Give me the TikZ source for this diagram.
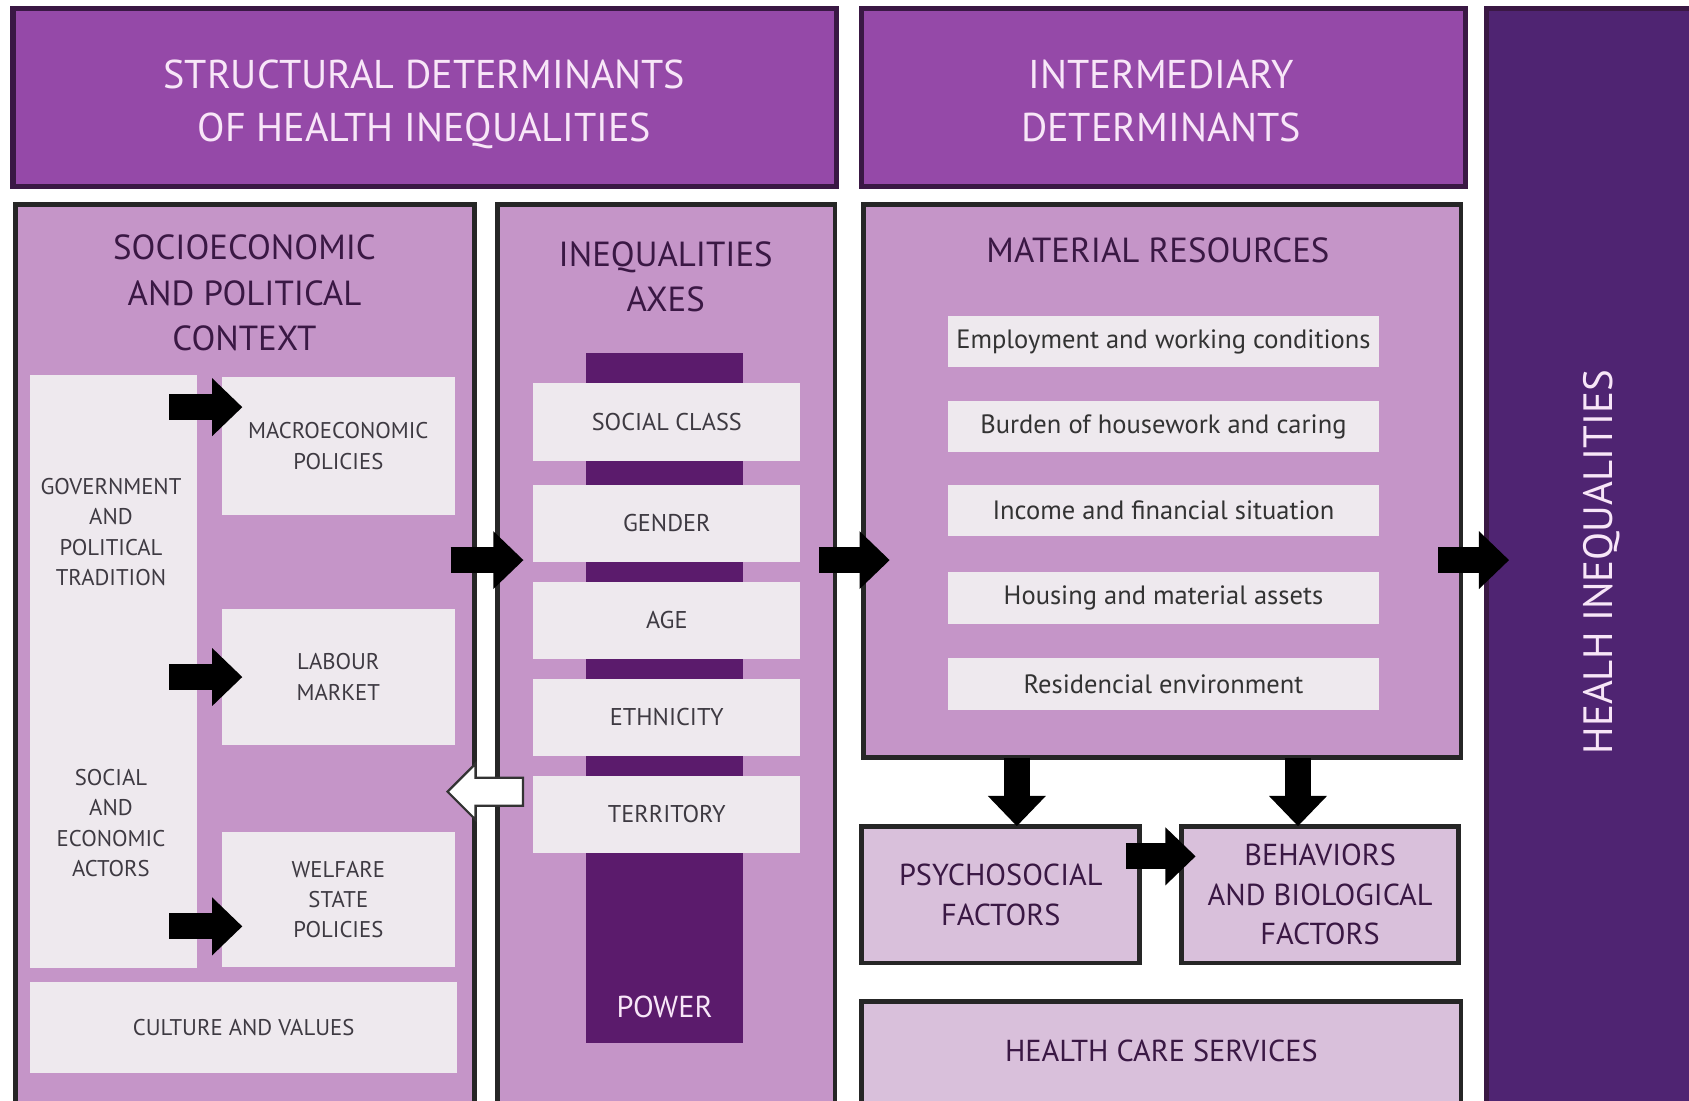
\documentclass[tikz,border=0pt]{standalone}
\usepackage{fontspec}
\setmainfont{PT Sans}
\usetikzlibrary{arrows.meta,shapes.arrows,calc,positioning}

\definecolor{headpurple}{RGB}{149,73,168}
\definecolor{boxpurple}{RGB}{197,149,200}
\definecolor{palebox}{RGB}{238,233,238}
\definecolor{lilac}{RGB}{217,192,219}
\definecolor{deeppurple}{RGB}{91,27,108}
\definecolor{nightpurple}{RGB}{79,36,114}
\definecolor{inkpurple}{RGB}{58,24,68}
\definecolor{headtext}{RGB}{248,230,248}
\definecolor{greytext}{RGB}{62,58,66}

\begin{document}
\begin{tikzpicture}[x=0.01cm,y=-0.01cm,
    box/.style={anchor=north west,inner sep=0pt,outer sep=0pt},
    header/.style={box,draw=inkpurple,line width=0.05cm,fill=headpurple},
    headtxt/.style={text=headtext,align=center,font=\fontsize{10.6}{13.9}\selectfont},
    frame/.style={box,draw=black!85,line width=0.045cm,fill=boxpurple},
    factor/.style={box,draw=black!85,line width=0.045cm,fill=lilac,text=inkpurple,align=center,font=\fontsize{8}{10.5}\selectfont},
    pale/.style={box,fill=palebox},
    fat/.style={line width=0.24cm,-{Triangle[length=0.28cm,width=0.52cm]}},
    titletxt/.style={text=inkpurple,align=center,font=\fontsize{9.2}{12}\selectfont},
    smalltxt/.style={text=greytext,align=center,font=\fontsize{6}{8}\selectfont},
    axistxt/.style={text=greytext,align=center,font=\fontsize{6.4}{8}\selectfont},
    itemtxt/.style={text=black!80,align=center,font=\fontsize{7}{9}\selectfont}]
\clip (0,0) rectangle (1568,1022);
\fill[white] (0,0) rectangle (1568,1022);

% headers
\node[header,minimum width=7.64cm,minimum height=1.65cm] (struct) at (12,8) {};
\node[headtxt] (structtxt) at (394,97) {STRUCTURAL DETERMINANTS\\OF HEALTH INEQUALITIES};
\node[header,minimum width=5.6cm,minimum height=1.65cm] (inter) at (800,8) {};
\node[headtxt] (intertxt) at (1078,94) {INTERMEDIARY\\DETERMINANTS};
\node[box,draw=inkpurple,line width=0.05cm,fill=nightpurple,minimum width=2.3cm,minimum height=10.4cm] (health) at (1380,8) {};
\node[rotate=90,text=headtext,font=\fontsize{10.8}{12}\selectfont] (healthtxt) at (1487,522) {HEALH INEQUALITIES};

% socioeconomic and political context
\node[frame,minimum width=4.26cm,minimum height=8.6cm] (context) at (14,190) {};
\node[titletxt] (contexttxt) at (227,272) {SOCIOECONOMIC\\AND POLITICAL\\CONTEXT};
\node[pale,minimum width=1.55cm,minimum height=5.5cm] (gov) at (28,348) {};
\node[smalltxt] (govtxt) at (103,494) {GOVERNMENT\\AND\\POLITICAL\\TRADITION};
\node[smalltxt] (actors) at (103,764) {SOCIAL\\AND\\ECONOMIC\\ACTORS};
\node[pale,smalltxt,minimum width=2.16cm,minimum height=1.28cm] (macro) at (206,350) {MACROECONOMIC\\POLICIES};
\node[pale,smalltxt,minimum width=2.16cm,minimum height=1.27cm] (labour) at (206,565) {LABOUR\\MARKET};
\node[pale,smalltxt,minimum width=2.16cm,minimum height=1.26cm] (welfare) at (206,772) {WELFARE\\STATE\\POLICIES};
\node[pale,smalltxt,minimum width=3.96cm,minimum height=0.84cm] (culture) at (28,912) {CULTURE AND VALUES};

% inequalities axes
\node[frame,minimum width=3.13cm,minimum height=8.6cm] (axes) at (462,190) {};
\node[titletxt] (axestxt) at (618,257) {INEQUALITIES\\AXES};
\node[box,fill=deeppurple,minimum width=1.46cm,minimum height=6.4cm] (power) at (544,328) {};
\node[text=headtext,font=\fontsize{8}{10}\selectfont] (powertxt) at (617,935) {POWER};
\foreach \y/\lab [count=\i] in {356/SOCIAL CLASS,450/GENDER,540/AGE,630/ETHNICITY,720/TERRITORY}
    \node[pale,axistxt,minimum width=2.48cm,minimum height=0.72cm] (axis\i) at (495,\y) {\lab};

% material resources
\node[frame,minimum width=5.54cm,minimum height=5.13cm] (material) at (802,190) {};
\node[titletxt] (materialtxt) at (1075,232) {MATERIAL RESOURCES};
\foreach \y/\lab [count=\i] in {293/Employment and working conditions,372/Burden of housework and caring,
    450/Income and financial situation,531/Housing and material assets,611/Residencial environment}
    \node[pale,itemtxt,minimum width=4cm,minimum height=0.48cm] (res\i) at (880,\y) {\lab};

% factors
\node[factor,minimum width=2.58cm,minimum height=1.27cm] (psycho) at (800,767) {PSYCHOSOCIAL\\FACTORS};
\node[factor,minimum width=2.57cm,minimum height=1.27cm] (behav) at (1097,767) {BEHAVIORS\\AND BIOLOGICAL\\FACTORS};
\node[factor,minimum width=5.56cm,minimum height=1.5cm,text depth=0.6cm] (care) at (800,930) {HEALTH CARE SERVICES};

% arrows
\coordinate (mid) at (0,520);
\draw[fat] ($(gov.east|-macro.north)+(-26,28)$) -- ($(macro.north west)+(19,28)$);
\draw[fat] ($(gov.east|-labour)+(-26,0)$) -- ($(labour.west)+(19,0)$);
\draw[fat] ($(gov.east|-welfare)+(-26,25)$) -- ($(welfare.west)+(19,25)$);
\draw[fat] ($(context.east|-mid)+(-22,0)$) -- ($(axes.west|-mid)+(24,0)$);
\draw[fat] ($(axes.east|-mid)+(-15,0)$) -- ($(material.west|-mid)+(24,0)$);
\draw[fat] ($(material.east|-mid)+(-21,0)$) -- ($(health.west|-mid)+(21,0)$);
\draw[fat] ($(material.south west)+(142,0)$) -- ($(psycho.north west)+(144,0)$);
\draw[fat] ($(material.south west)+(403,0)$) -- ($(behav.north west)+(108,0)$);
\draw[fat] ($(psycho.north east)+(-13,28)$) -- ($(behav.north west)+(13,28)$);
\node[single arrow,draw=black!80,line width=0.02cm,fill=white,shape border rotate=180,
    inner xsep=0pt,inner ysep=0.12cm,minimum height=0.7cm,minimum width=0pt,
    single arrow head extend=0.13cm] (back) at (457,735) {};
\end{tikzpicture}
\end{document}
